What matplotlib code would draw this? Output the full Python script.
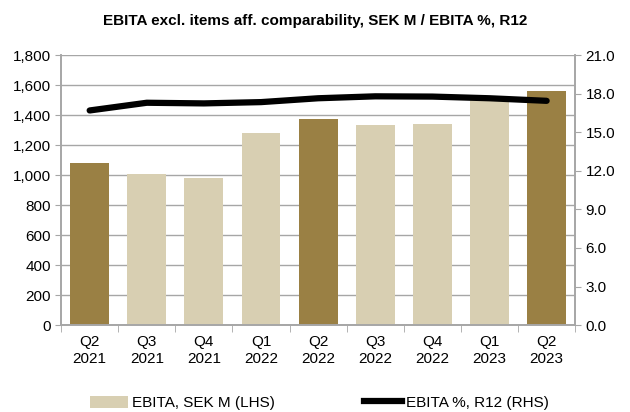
import matplotlib.pyplot as plt
from matplotlib.patches import Patch
from matplotlib.lines import Line2D

plt.rcParams['font.family'] = ['Liberation Sans', 'DejaVu Sans']

quarters = ['Q2\n2021', 'Q3\n2021', 'Q4\n2021', 'Q1\n2022', 'Q2\n2022',
            'Q3\n2022', 'Q4\n2022', 'Q1\n2023', 'Q2\n2023']
ebita = [1082, 1005, 978, 1280, 1373, 1335, 1340, 1522, 1560]
ebita_pct_r12 = [16.7, 17.3, 17.25, 17.35, 17.65, 17.8, 17.78, 17.65, 17.45]
highlight = [True, False, False, False, True, False, False, False, True]

dark = '#9A8044'
light = '#D8CFB2'
grid_col = '#A6A6A6'

fig = plt.figure(figsize=(6.3, 4.12), dpi=100)
ax = fig.add_axes([0.097, 0.211, 0.816, 0.655])
ax2 = ax.twinx()

x = list(range(len(quarters)))
colors = [dark if h else light for h in highlight]
ax.bar(x, ebita, width=0.68, color=colors, zorder=2)
ax.set_ylim(0, 1800)
ax.set_yticks(range(0, 1801, 200))
ax.set_yticklabels([f'{v:,}' for v in range(0, 1801, 200)])
ax.set_xlim(-0.5, len(quarters) - 0.5)
ax.set_xticks(x)
ax.set_xticklabels(quarters, linespacing=1.3)
ax.tick_params(axis='x', length=0, pad=7, labelsize=11)
ax.set_xticks([i - 0.5 for i in range(len(quarters) + 1)], minor=True)
ax.tick_params(axis='x', which='minor', length=5, color=grid_col, direction='out')
ax.tick_params(axis='y', length=4, color=grid_col, labelsize=11)
ax.grid(axis='y', color=grid_col, linewidth=1, zorder=0)
ax.set_axisbelow(True)

ax2.plot(x, ebita_pct_r12, color='black', linewidth=4.5,
         solid_capstyle='round', solid_joinstyle='round', zorder=3)
ax2.set_ylim(0, 21)
ax2.set_yticks([i * 3 for i in range(8)])
ax2.set_yticklabels([f'{i * 3:.1f}' for i in range(8)])
ax2.tick_params(axis='y', length=4, color=grid_col, labelsize=11)

for a in (ax, ax2):
    a.spines['top'].set_visible(False)
    for s in ('left', 'right', 'bottom'):
        a.spines[s].set_color(grid_col)
        a.spines[s].set_linewidth(1.2)

fig.suptitle('EBITA excl. items aff. comparability, SEK M / EBITA %, R12',
             fontsize=11, fontweight='bold', y=0.965)

handles = [Patch(facecolor=light, edgecolor='none'),
           Line2D([0], [0], color='black', linewidth=4.5)]
fig.legend(handles, ['EBITA, SEK M (LHS)', 'EBITA %, R12 (RHS)'],
           loc='center', bbox_to_anchor=(0.507, 0.022), ncol=2,
           frameon=False, fontsize=11, handlelength=2.5, handleheight=0.8,
           handletextpad=0.25, columnspacing=5.8, borderpad=0)

fig.savefig('out.png', dpi=100)
